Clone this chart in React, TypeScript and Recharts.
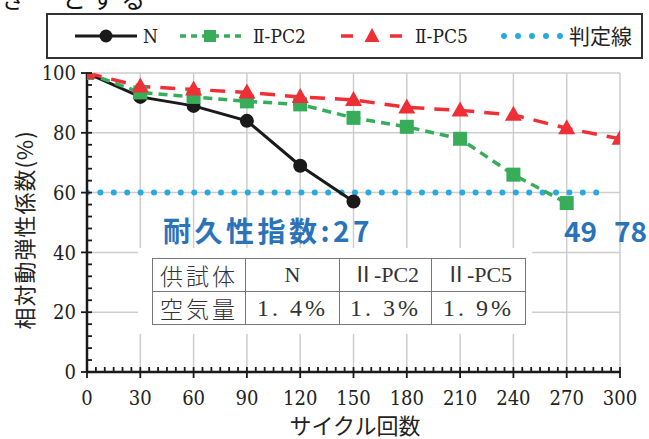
import React from 'react';
import { LineChart, Line, XAxis, YAxis, CartesianGrid } from 'recharts';

const cycles = [0, 30, 60, 90, 120, 150, 180, 210, 240, 270, 300];
const valuesN = [100, 92, 89, 84, 69, 57];
const valuesPC2 = [100, 93.5, 92, 90.5, 89.5, 85, 82, 78, 66, 56.5];
const valuesPC5 = [100, 95.5, 94.5, 93.5, 92, 91, 88.5, 87.5, 86, 81.5, 78];
const judgeX = [0, 292];
const judgeY = [60, 60];

const xMajorTicks = [0, 30, 60, 90, 120, 150, 180, 210, 240, 270, 300];
const yMajorTicks = [0, 20, 40, 60, 80, 100];
const xTickStep = 5;
const yTickStep = 4;
const xAllTicks = Array.from({ length: 300 / xTickStep + 1 }, (_, i) => i * xTickStep);
const yAllTicks = Array.from({ length: 100 / yTickStep + 1 }, (_, i) => i * yTickStep);

const legendLabels = ['N', 'Ⅱ-PC2', 'Ⅱ-PC5', '判定線'];
const tableHeader = ['供試体', 'N', 'Ⅱ-PC2', 'Ⅱ-PC5'];
const tableRow = ['空気量', '1. 4%', '1. 3%', '1. 9%'];
const durabilityLabels = ['耐久性指数:27', '49', '78'];

const toRows = (vals: number[]) => vals.map((v, i) => ({ c: cycles[i], v }));
const dataN = toRows(valuesN);
const dataPC2 = toRows(valuesPC2);
const dataPC5 = toRows(valuesPC5);
const dataJudge = judgeX.map((c, i) => ({ c, v: judgeY[i] }));

const BLACK = '#1a1a1a';
const GREEN = '#37ad5a';
const RED = '#ee2f35';
const BLUE = '#29a9e1';
const TEXTBLUE = '#2b73b9';
const SERIF = "'DejaVu Serif Condensed', 'Liberation Serif', serif";
const SERIF2 = "'Liberation Serif', 'Noto Sans CJK JP', serif";
const CJK = "'Noto Sans CJK JP', sans-serif";

const XTick = (props: any) => {
  const { x, y, payload } = props;
  const v = payload.value;
  const major = v % 30 === 0;
  return (
    <g>
      <line x1={x} x2={x} y1={y - 5} y2={major ? y + 6 : y} stroke={BLACK} strokeWidth={1.8} />
      {major && (
        <text x={x} y={y + 33} textAnchor="middle" fill="#222" style={{ fontSize: 20, fontFamily: SERIF }}>
          {v}
        </text>
      )}
    </g>
  );
};

const YTick = (props: any) => {
  const { x, y, payload } = props;
  const v = payload.value;
  const major = v % 20 === 0;
  return (
    <g>
      <line x1={major ? x - 6 : x} x2={x + 5} y1={y} y2={y} stroke={BLACK} strokeWidth={1.8} />
      {major && (
        <text x={x - 11} y={y} dy="0.36em" textAnchor="end" fill="#222" style={{ fontSize: 20, fontFamily: SERIF }}>
          {v}
        </text>
      )}
    </g>
  );
};

const SquareDot = (props: any) => {
  const { cx, cy, index } = props;
  if (cx == null || cy == null) return <g key={index} />;
  return <rect key={index} x={cx - 7} y={cy - 7} width={14} height={14} fill={GREEN} />;
};

const TriangleDot = (props: any) => {
  const { cx, cy, index } = props;
  if (cx == null || cy == null) return <g key={index} />;
  return (
    <polygon
      key={index}
      points={`${cx},${cy - 9} ${cx - 8.5},${cy + 6} ${cx + 8.5},${cy + 6}`}
      fill={RED}
    />
  );
};

const legendText: React.CSSProperties = { fontSize: 19, fontFamily: SERIF };

const Legend = () => (
  <div
    style={{
      position: 'absolute',
      left: 46,
      top: 13,
      width: 597,
      height: 46,
      border: '2px solid #333',
      boxSizing: 'border-box',
      background: '#fff',
    }}
  >
    <svg width={597} height={46} style={{ position: 'absolute', left: -2, top: -2 }}>
      <line x1={29} x2={91} y1={23} y2={23} stroke={BLACK} strokeWidth={3} />
      <circle cx={60} cy={23} r={6.5} fill={BLACK} />
      <text x={97} y={23} dy="0.36em" fill="#222" style={legendText}>{legendLabels[0]}</text>
      <line x1={134} x2={197} y1={23} y2={23} stroke={GREEN} strokeWidth={3.5} strokeDasharray="6 5" />
      <rect x={158} y={17} width={12} height={12} fill={GREEN} />
      <text x={207} y={23} dy="0.36em" fill="#222" style={legendText}>{legendLabels[1]}</text>
      <line x1={295} x2={307} y1={23} y2={23} stroke={RED} strokeWidth={3.5} />
      <line x1={344} x2={356} y1={23} y2={23} stroke={RED} strokeWidth={3.5} />
      <polygon points="326,15 318.5,29 333.5,29" fill={RED} />
      <text x={369} y={23} dy="0.36em" fill="#222" style={legendText}>{legendLabels[2]}</text>
      <line x1={458} x2={515} y1={23} y2={23} stroke={BLUE} strokeWidth={6} strokeLinecap="round" strokeDasharray="0 14" />
      <text x={523} y={23} dy="0.36em" fill="#222" style={{ fontSize: 21, fontFamily: CJK }}>{legendLabels[3]}</text>
    </svg>
  </div>
);

const cellStyle: React.CSSProperties = {
  border: '1.5px solid #777',
  padding: 0,
  textAlign: 'center',
  verticalAlign: 'middle',
  color: '#333',
  height: 32,
  lineHeight: '32px',
  whiteSpace: 'nowrap',
  overflow: 'hidden',
};

const colWidths = [92, 93, 91, 93];

const Table = () => (
  <div
    style={{
      position: 'absolute',
      left: 138,
      top: 248,
      width: 394,
      height: 86,
      background: '#fff',
    }}
  >
    <table
      style={{
        position: 'absolute',
        left: 14,
        top: 10,
        borderCollapse: 'collapse',
        width: 369,
        height: 67,
        tableLayout: 'fixed',
      }}
    >
      <tbody>
        <tr>
          {tableHeader.map((t, i) => (
            <td
              key={i}
              style={{
                ...cellStyle,
                width: colWidths[i],
                fontFamily: i === 0 ? CJK : SERIF2,
                fontSize: i === 0 ? 23 : 22,
                fontWeight: i === 0 ? 300 : 400,
                letterSpacing: i === 0 ? 3 : 0,
              }}
            >
              {t}
            </td>
          ))}
        </tr>
        <tr>
          {tableRow.map((t, i) => (
            <td
              key={i}
              style={{
                ...cellStyle,
                width: colWidths[i],
                fontFamily: i === 0 ? CJK : SERIF2,
                fontSize: i === 0 ? 23 : 24,
                fontWeight: i === 0 ? 300 : 400,
                letterSpacing: 3,
                whiteSpace: 'pre',
              }}
            >
              {t}
            </td>
          ))}
        </tr>
      </tbody>
    </table>
  </div>
);

const blueText: React.CSSProperties = {
  position: 'absolute',
  top: 212,
  fontSize: 28,
  fontWeight: 700,
  fontFamily: CJK,
  color: TEXTBLUE,
  lineHeight: '36px',
  whiteSpace: 'nowrap',
};

export default function App() {
  return (
    <div style={{ position: 'absolute', left: 0, top: 0, width: 649, height: 439, background: '#fff', overflow: 'hidden' }}>
      <div style={{ position: 'absolute', left: 2, top: -20, fontSize: 24, fontFamily: CJK, color: '#111', letterSpacing: 6 }}>
        ぎ　とする
      </div>
      <Legend />
      <div style={{ position: 'absolute', left: 0, top: 0 }}>
        <LineChart width={649} height={439} margin={{ top: 73, right: 29, bottom: 0, left: 0 }}>
          <CartesianGrid
            stroke="#cdcdcd"
            strokeWidth={1.5}
            horizontalValues={yMajorTicks}
            verticalValues={xMajorTicks}
          />
          <XAxis
            dataKey="c"
            type="number"
            domain={[0, 300]}
            ticks={xAllTicks}
            interval={0}
            tickSize={0}
            tickMargin={0}
            tickLine={false}
            tick={<XTick />}
            axisLine={{ stroke: BLACK, strokeWidth: 2.5 }}
            height={67}
            allowDataOverflow
          />
          <YAxis
            type="number"
            domain={[0, 100]}
            ticks={yAllTicks}
            interval={0}
            tickSize={0}
            tickMargin={0}
            tickLine={false}
            tick={<YTick />}
            axisLine={{ stroke: BLACK, strokeWidth: 2.5 }}
            width={87}
            allowDataOverflow
          />
          <Line
            data={dataJudge}
            dataKey="v"
            stroke={BLUE}
            strokeWidth={6}
            strokeLinecap="round"
            strokeDasharray="0 13.4"
            dot={false}
            activeDot={false}
            isAnimationActive={false}
          />
          <Line
            data={dataN}
            dataKey="v"
            stroke={BLACK}
            strokeWidth={3}
            dot={{ r: 7, fill: BLACK, stroke: BLACK, strokeWidth: 0 }}
            activeDot={false}
            isAnimationActive={false}
          />
          <Line
            data={dataPC2}
            dataKey="v"
            stroke={GREEN}
            strokeWidth={3.5}
            strokeDasharray="9 6"
            dot={<SquareDot />}
            activeDot={false}
            isAnimationActive={false}
          />
          <Line
            data={dataPC5}
            dataKey="v"
            stroke={RED}
            strokeWidth={3.5}
            strokeDasharray="15 10"
            dot={<TriangleDot />}
            activeDot={false}
            isAnimationActive={false}
          />
        </LineChart>
      </div>
      <Table />
      <div style={{ ...blueText, left: 163, letterSpacing: 3.5 }}>{durabilityLabels[0]}</div>
      <div style={{ ...blueText, left: 564 }}>{durabilityLabels[1]}</div>
      <div style={{ ...blueText, left: 614 }}>{durabilityLabels[2]}</div>
      <div
        style={{
          position: 'absolute',
          left: 23,
          top: 230,
          transform: 'translate(-50%, -50%) rotate(-90deg)',
          fontSize: 22,
          lineHeight: '24px',
          fontFamily: CJK,
          color: '#222',
          whiteSpace: 'nowrap',
          letterSpacing: 1,
        }}
      >
        相対動弾性係数(%)
      </div>
      <div
        style={{
          position: 'absolute',
          left: 355,
          top: 424,
          transform: 'translate(-50%, -50%)',
          fontSize: 22,
          lineHeight: '24px',
          fontFamily: CJK,
          color: '#222',
          whiteSpace: 'nowrap',
        }}
      >
        サイクル回数
      </div>
    </div>
  );
}
